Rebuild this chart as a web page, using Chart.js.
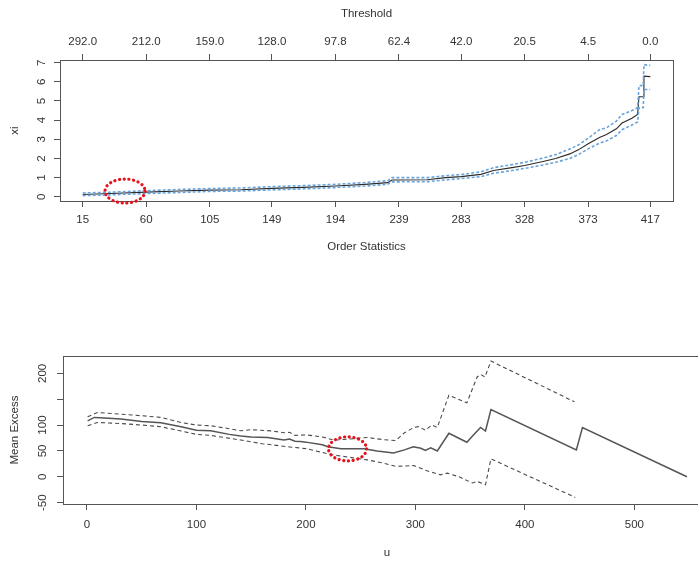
<!DOCTYPE html>
<html>
<head>
<meta charset="UTF-8">
<title>Hill plot / Mean excess plot</title>
<script src="https://cdn.jsdelivr.net/npm/chart.js@4.4.1/dist/chart.umd.min.js"></script>
<style>
  body { margin: 0; background: #fff; overflow: hidden; }
  #hillBox { position: absolute; left: 0; top: 0; width: 698px; height: 270px; }
  #meBox { position: absolute; left: 0; top: 290px; width: 720px; height: 271px; }
</style>
</head>
<body>
<div id="hillBox"><canvas id="hill"></canvas></div>
<div id="meBox"><canvas id="me"></canvas></div>
<script>
// ---- top plot: xi against order statistics ----
const orderTicks = [15, 60, 105, 149, 194, 239, 283, 328, 373, 417];
const thresholdLabels = ['292.0', '212.0', '159.0', '128.0', '97.8', '62.4', '42.0', '20.5', '4.5', '0.0'];
const xiTicks = [0, 1, 2, 3, 4, 5, 6, 7];

const k = [15, 35, 60, 83, 105, 127, 149, 171, 194, 215, 231, 234, 239, 259, 272, 283, 297, 306, 319, 328,
           341, 350, 360, 366, 373, 381, 386, 393, 397, 404, 408, 409, 412, 412.5, 417];
const xi = [0.12, 0.17, 0.245, 0.3, 0.35, 0.37, 0.44, 0.49, 0.56, 0.65, 0.74, 0.88, 0.88, 0.89, 1.0, 1.05, 1.17, 1.37, 1.52, 1.63,
            1.84, 2.0, 2.24, 2.45, 2.77, 3.1, 3.25, 3.55, 3.85, 4.1, 4.3, 5.22, 5.22, 6.3, 6.27];
const xiUpper = [0.2, 0.24, 0.32, 0.38, 0.43, 0.46, 0.53, 0.58, 0.65, 0.74, 0.84, 1.0, 1.0, 1.0, 1.1, 1.16, 1.3, 1.52, 1.68, 1.8,
                 2.02, 2.2, 2.5, 2.7, 3.05, 3.5, 3.6, 3.95, 4.3, 4.5, 4.65, 5.8, 5.8, 6.9, 6.85];
const xiLower = [0.06, 0.1, 0.17, 0.22, 0.28, 0.3, 0.36, 0.41, 0.48, 0.56, 0.65, 0.78, 0.78, 0.79, 0.88, 0.95, 1.05, 1.23, 1.37, 1.48,
                 1.66, 1.8, 2.0, 2.2, 2.5, 2.8, 2.92, 3.2, 3.5, 3.75, 3.9, 4.65, 4.65, 5.6, 5.6];

// ---- bottom plot: mean excess against u ----
const uTicks = [0, 100, 200, 300, 400, 500];
const meTicks = [-50, 0, 50, 100, 150, 200];
const meTickLabels = ['-50', '0', '50', '100', '', '200'];

const u = [0.6, 6.7, 12, 31, 50, 67.5, 86, 100, 113, 130, 140.5, 150, 165, 180, 185, 190, 195, 200, 215, 220,
           232, 253, 265, 280, 290, 298, 305, 309, 314, 320, 330.6, 347, 353, 359.5, 364, 369, 447, 452.6, 548];
const meanExcess = [108, 114.8, 114, 111.5, 107, 104.5, 96.8, 90, 89, 82, 78.8, 77, 76, 71, 73, 68.6, 68, 67, 62, 58,
                    54, 54, 50, 46, 52, 58, 55, 51, 56, 50, 84, 66.7, 80.8, 95.5, 88.5, 130, 52, 95, 0];
const uUp = [0.6, 9.5, 31, 50, 67.5, 86, 100, 113, 130, 140.5, 150, 170, 180, 185, 190, 200, 215, 225.6, 240, 256,
             270, 282, 290, 298.6, 303, 309, 315, 320, 330.6, 347, 356.4, 359.5, 363.5, 369, 445.3];
const meUpper = [116, 124.4, 121, 118, 114.8, 105, 100, 98.7, 93, 89, 91, 88.5, 85, 86, 80, 81, 77, 71, 73, 76,
                 72, 70, 85, 95.5, 97, 90, 100, 95.5, 157.7, 143, 193, 198, 193, 223.7, 145];
const uLow = [0.6, 9.5, 31, 50, 67.5, 86, 100, 113, 140.5, 160, 185, 200, 215, 225.6, 256, 270, 282, 298.6, 310, 323,
              329, 340, 352, 356.4, 364, 369, 446];
const meLower = [98.7, 105, 103, 100, 96.8, 88.5, 82, 80, 71, 64, 57.7, 54.5, 47, 42, 32.7, 27, 20, 21.8, 12, 3.8,
                 7, 0, -12, -9, -15.4, 34.6, -39.8];

// red dotted marks drawn over the plots
const hillMark = { x: 45, y: 0.3, rx: 20, ry: 12 };
const meMark = { x: 238, y: 54, rx: 19, ry: 12 };

const pts = (xs, ys) => xs.map((v, i) => ({ x: v, y: ys[i] }));
const FONT = { family: "'Liberation Sans', Arial, sans-serif", size: 11.5 };
const TXT = '#333';
const AX = '#555';

const frame = {
  id: 'frame',
  afterDraw(c) {
    const a = c.chartArea, ctx = c.ctx;
    ctx.save();
    ctx.strokeStyle = AX;
    ctx.lineWidth = 1;
    ctx.strokeRect(Math.round(a.left) + 0.5, Math.round(a.top) + 0.5,
                   Math.round(a.right - a.left), Math.round(a.bottom - a.top));
    const m = c.options.plugins.frame.mark;
    if (m) {
      const cx = c.scales.x.getPixelForValue(m.x), cy = c.scales.y.getPixelForValue(m.y);
      ctx.beginPath();
      ctx.ellipse(cx, cy, m.rx, m.ry, 0, 0, Math.PI * 2);
      ctx.strokeStyle = '#e3121b';
      ctx.lineWidth = 3.2;
      ctx.lineCap = 'round';
      ctx.setLineDash([0.1, 4.6]);
      ctx.stroke();
    }
    ctx.restore();
  }
};

function axisX(pos, min, max, ticks, labels, title, h, tickPad, titlePad) {
  return {
    type: 'linear', position: pos, min: min, max: max,
    afterBuildTicks: s => { s.ticks = ticks.map(v => ({ value: v })); },
    afterFit: s => { s.height = h; },
    ticks: { autoSkip: false, maxRotation: 0, padding: tickPad, color: TXT, font: FONT,
             callback: (v, i) => labels[i] },
    grid: { drawOnChartArea: false, drawTicks: true, tickLength: 6, color: AX, tickColor: AX },
    border: { display: false },
    title: { display: true, text: title, color: TXT, font: FONT, padding: titlePad }
  };
}

function axisY(min, max, ticks, labels, title, w, tickPad) {
  return {
    type: 'linear', position: 'left', min: min, max: max,
    afterBuildTicks: s => { s.ticks = ticks.map(v => ({ value: v })); },
    afterFit: s => { s.width = w; },
    ticks: { autoSkip: false, minRotation: 90, maxRotation: 90, crossAlign: 'center', padding: tickPad,
             color: TXT, font: FONT, callback: (v, i) => labels[i] },
    grid: { drawOnChartArea: false, drawTicks: true, tickLength: 6, color: AX, tickColor: AX },
    border: { display: false },
    title: { display: true, text: title, color: TXT, font: FONT, padding: { top: 8, bottom: 0 } }
  };
}

const line = (data, color, width, dash) => ({
  data: data, borderColor: color, borderWidth: width, borderDash: dash || [],
  pointRadius: 0, tension: 0, fill: false
});

new Chart(document.getElementById('hill'), {
  type: 'line',
  data: {
    datasets: [
      line(pts(k, xiUpper), '#6aa4dc', 1.6, [3, 2]),
      line(pts(k, xiLower), '#6aa4dc', 1.6, [3, 2]),
      line(pts(k, xi), '#2b2b2b', 1.1)
    ]
  },
  options: {
    responsive: true, maintainAspectRatio: false, animation: false,
    layout: { padding: { left: 0, right: 25, top: 0, bottom: 0 } },
    plugins: { legend: { display: false }, tooltip: { enabled: false }, frame: { mark: hillMark } },
    scales: {
      x: axisX('bottom', -1.08, 433.08, orderTicks, orderTicks.map(String), 'Order Statistics', 69, 6,
               { top: 0, bottom: 16 }),
      x2: axisX('top', -1.08, 433.08, orderTicks, thresholdLabels, 'Threshold', 60, 5,
                { top: 7, bottom: 0 }),
      y: axisY(-0.22, 7.14, xiTicks, xiTicks.map(String), 'xi', 60, 9)
    }
  },
  plugins: [frame]
});

new Chart(document.getElementById('me'), {
  type: 'line',
  data: {
    datasets: [
      line(pts(uUp, meUpper), '#4a4a4a', 1.1, [4, 3]),
      line(pts(uLow, meLower), '#4a4a4a', 1.1, [4, 3]),
      line(pts(u, meanExcess), '#555', 1.5)
    ]
  },
  options: {
    responsive: true, maintainAspectRatio: false, animation: false,
    layout: { padding: { left: 0, right: 9, top: 66, bottom: 0 } },
    plugins: { legend: { display: false }, tooltip: { enabled: false }, frame: { mark: meMark } },
    scales: {
      x: axisX('bottom', -21.9, 570, uTicks, uTicks.map(String), 'u', 57, 8, { top: 0, bottom: 1 }),
      y: axisY(-52.6, 233.5, meTicks, meTickLabels, 'Mean Excess', 63, 5)
    }
  },
  plugins: [frame]
});
</script>
</body>
</html>
